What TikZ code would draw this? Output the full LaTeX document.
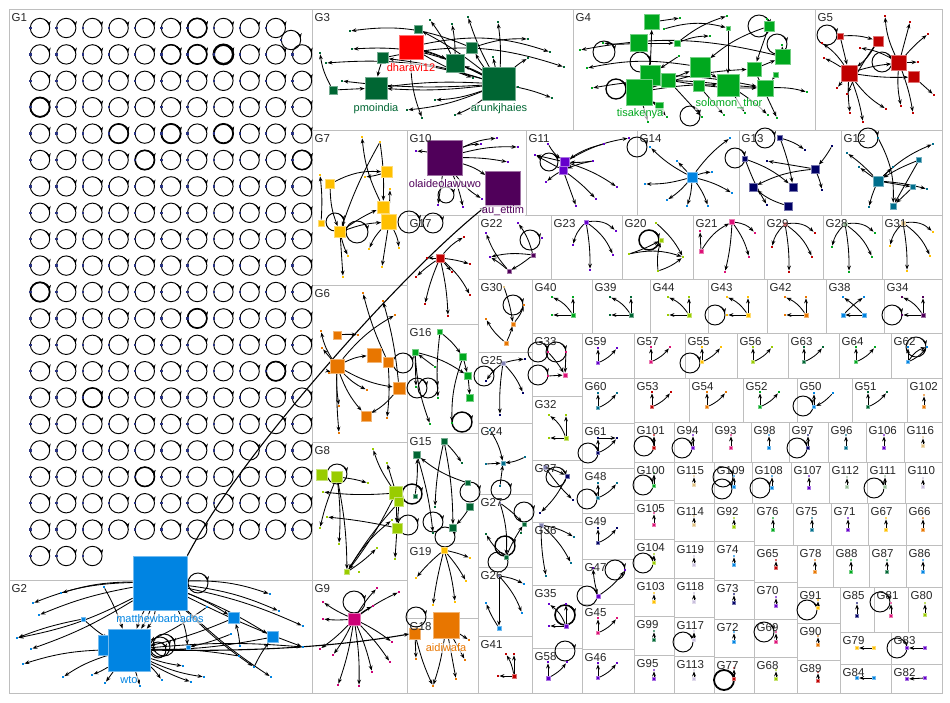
\documentclass[tikz,border=0pt]{standalone}
\usepackage{fontspec}
\setmainfont{Liberation Sans}
\usetikzlibrary{arrows.meta,calc}
\pgfdeclarelayer{bg}
\pgfdeclarelayer{edges}
\pgfsetlayers{bg,edges,main}
\definecolor{cblue}{RGB}{0,132,226}
\definecolor{cdkg}{RGB}{0,102,51}
\definecolor{cgrn}{RGB}{0,168,30}
\definecolor{cred}{RGB}{192,0,0}
\definecolor{cbred}{RGB}{255,0,0}
\definecolor{cyel}{RGB}{255,192,0}
\definecolor{corg}{RGB}{232,118,0}
\definecolor{cpur}{RGB}{80,0,90}
\definecolor{cvio}{RGB}{102,0,204}
\definecolor{clim}{RGB}{153,204,0}
\definecolor{cmag}{RGB}{204,0,119}
\definecolor{cpnk}{RGB}{221,17,119}
\definecolor{cnav}{RGB}{0,0,102}
\definecolor{ctea}{RGB}{0,110,140}
\definecolor{cg1}{RGB}{40,50,130}
\definecolor{cgry}{RGB}{130,130,180}
\definecolor{csal}{RGB}{224,112,112}
\definecolor{csag}{RGB}{150,190,150}
\definecolor{ctan}{RGB}{224,192,128}
\definecolor{clt}{RGB}{200,190,220}
\definecolor{cbox}{RGB}{190,190,190}
\tikzset{
  boxln/.style={draw=cbox, line width=1pt},
  glab/.style={anchor=north west, inner sep=0pt, text=black!85, font=\fontsize{11.5}{13}\selectfont},
  sq/.style={rectangle, inner sep=0pt, line width=0.7pt},
  dt/.style={rectangle, inner sep=0pt, minimum size=2.4pt},
  ed/.style={draw=black, line width=0.85pt, -{Stealth[length=5pt,width=3.8pt]}},
  lpst/.style={draw=black},
  nlab/.style={inner sep=0.5pt, fill=white, fill opacity=0.65, text opacity=1, font=\fontsize{11}{12}\selectfont},
}
\newcount\edgecnt
\newcommand\pushedge[1]{\global\advance\edgecnt by 1 \expandafter\xdef\csname myedge\the\edgecnt\endcsname{#1}}
\newcommand\Nd[5]{\node[sq,fill=#5,draw=#5!55!white,minimum size=#4pt] (#1) at (#2,#3) {};}
\newcommand\Dt[4]{\node[dt,fill=#4] (#1) at (#2,#3) {};}
\newcommand\Ed[3][bend left=10]{\pushedge{\noexpand\draw[ed] (#2) to[#1] (#3);}}
\newcommand\Lp[4][0.95pt]{\pushedge{\noexpand\draw[lpst,line width=#1] (#2,#3) circle[radius=#4pt];\noexpand\draw[lpst,line width=#1,-{Stealth[length=5pt,width=4pt]}] ($(#2,#3)+(55:#4pt)$) arc[start angle=55,end angle=10,radius=#4pt];}}
\newcommand\Tri[6]{\Nd{#1}{#2}{#3}{4}{#4}\Dt{#1a}{#2-#5}{#3-#6}{#4}\Dt{#1b}{#2}{#3-#6}{#4}\Dt{#1c}{#2-#5}{#3}{#4}\Ed[bend right=15]{#1}{#1a}\Ed[]{#1}{#1b}\Ed[]{#1}{#1c}}
\newcommand\Vee[4]{\Nd{#1}{#2}{#3}{3.5}{#4}\Dt{#1a}{#2}{#3-15}{#4}\Dt{#1b}{#2+19}{#3-15}{#4}\Ed[]{#1}{#1a}\Ed[bend right=12]{#1}{#1b}}
\newcommand\One[5]{\Nd{#1}{#2}{#3}{3.5}{#4}\Dt{#1a}{#2}{#3-#5}{#4!60!white}\Ed[]{#1}{#1a}}
\newcommand\Fan[5]{\Nd{#1}{#2}{#3}{4}{#4}\Dt{#1a}{#2+30}{#3+9}{#5}\Dt{#1b}{#2-13}{#3+23}{#5}\Dt{#1c}{#2+4}{#3+48}{#5}\Dt{#1d}{#2+27}{#3+33}{#5}\Ed[bend left=25]{#1}{#1a}\Ed[bend right=15]{#1}{#1b}\Ed[bend left=5]{#1}{#1c}\Ed[bend left=15]{#1}{#1d}}
\def\boxlist{9/9/312/580/G1,9/580/312/693/G2,312/9/573/130/G3,573/9/815/130/G4,815/9/942/130/G5,%
312/130/407/285/G7,312/285/407/442/G6,312/442/407/580/G8,312/580/407/693/G9,%
407/130/526/215/G10,407/215/478/324/G17,407/324/478/433/G16,407/433/478/543/G15,407/543/478/618/G19,407/618/478/693/G18,%
526/130/637/215/G11,637/130/739/215/G14,739/130/841/215/G13,841/130/942/215/G12,%
478/215/551/279/G22,551/215/622/279/G23,622/215/693/279/G20,693/215/764/279/G21,764/215/823/279/G29,823/215/882/279/G28,882/215/942/279/G31,%
478/279/532/352/G30,532/279/592/333/G40,592/279/650/333/G39,650/279/708/333/G44,708/279/767/333/G43,767/279/826/333/G42,826/279/884/333/G38,884/279/942/333/G34,%
478/352/532/423/G25,478/423/532/494/G24,478/494/532/567/G27,478/567/532/636/G26,478/636/532/693/G41,%
532/333/582/396/G33,532/396/582/460/G32,532/460/582/522/G37,532/522/582/585/G36,532/585/582/648/G35,532/648/582/693/G58,%
582/333/634/378/G59,582/378/634/423/G60,582/423/634/468/G61,582/468/634/513/G48,582/513/634/559/G49,582/559/634/604/G47,582/604/634/649/G45,582/649/634/693/G46,%
634/333/685/378/G57,685/333/737/378/G55,737/333/788/378/G56,788/333/839/378/G63,839/333/891/378/G64,891/333/942/378/G62,%
634/378/689/422/G53,689/378/743/422/G54,743/378/797/422/G52,797/378/852/422/G50,852/378/907/422/G51,907/378/942/422/G102,%
634/422/674/462/G101,674/422/712/462/G94,712/422/751/462/G93,751/422/789/462/G98,789/422/828/462/G97,828/422/866/462/G96,866/422/904/462/G106,904/422/942/462/G116,%
634/462/674/500/G100,674/462/714/503/G115,714/462/752/503/G109,752/462/791/503/G108,791/462/829/503/G107,829/462/867/503/G112,867/462/905/503/G111,905/462/942/503/G110,%
634/500/674/539/G105,674/503/714/541/G114,714/503/754/541/G92,754/503/793/545/G76,793/503/831/545/G75,831/503/868/545/G71,868/503/906/545/G67,906/503/942/545/G66,%
634/539/674/578/G104,674/541/714/578/G119,714/541/754/580/G74,754/545/797/582/G65,797/545/833/587/G78,833/545/869/587/G88,869/545/906/587/G87,906/545/942/587/G86,%
634/578/674/616/G103,674/578/714/617/G118,714/580/754/619/G73,754/582/797/619/G70,797/587/840/623/G91,840/587/874/632/G85,874/587/908/632/G81,908/587/942/632/G80,%
634/616/674/655/G99,674/617/714/656/G117,714/619/754/657/G72,754/619/797/657/G69,797/623/840/660/G90,840/632/891/664/G79,891/632/942/664/G83,%
634/655/674/693/G95,674/656/714/693/G113,714/657/754/693/G77,754/657/797/693/G68,797/660/840/693/G89,840/664/891/693/G84,891/664/942/693/G82}
\begin{document}
\begin{tikzpicture}[x=1pt,y=-1pt]
\useasboundingbox (0,0) rectangle (950,702);
\begin{pgfonlayer}{bg}
\fill[white] (0,0) rectangle (950,702);
\foreach \a/\b/\c/\d/\n in \boxlist {\draw[boxln] (\a,\b) rectangle (\c,\d);}
\end{pgfonlayer}
% ---------------- G1 ----------------
\foreach \c in {1,...,10}{\pgfmathsetmacro\xx{40+26.2*(\c-1)}\Dt{g1-1-\c}{\xx-9.7}{28}{cg1}\Lp{\xx}{28}{9.7}}
\Dt{g1x}{281}{40}{cg1}\Lp{291}{40}{9.7}
\foreach \r in {2,...,20}{\foreach \c in {1,...,11}{\pgfmathsetmacro\xx{40+26.2*(\c-1)}\pgfmathsetmacro\yy{28+26.4*(\r-1)}\Dt{g1-\r-\c}{\xx-9.7}{\yy}{cg1}\Lp{\xx}{\yy}{9.7}}}
\foreach \c in {1,2,3}{\pgfmathsetmacro\xx{40+26.2*(\c-1)}\Dt{g1-21-\c}{\xx-9.7}{556}{cg1}\Lp{\xx}{556}{9.7}}
\foreach \r/\c/\w in {1/7/1.5,2/6/1.4,2/7/1.6,2/8/2.4,4/1/1.8,5/4/1.6,5/6/1.8,5/8/1.8,6/5/1.6,6/11/1.4,11/1/1.7,12/7/1.6,15/3/1.5,14/10/1.6,18/5/1.5}{\pgfmathsetmacro\xx{40+26.2*(\c-1)}\pgfmathsetmacro\yy{28+26.4*(\r-1)}\Lp[\w pt]{\xx}{\yy}{9.7}}
% ---------------- G2 ----------------
\Nd{wb}{108}{645}{20}{cblue}
\Nd{mb}{160}{583}{54}{cblue}
\Nd{wto}{129}{650}{42}{cblue}
\Nd{s1}{234}{618}{11}{cblue}
\Nd{s2}{273}{637}{11}{cblue}
\Nd{s3}{188}{647}{4}{cblue}
\Nd{s4}{83}{619}{4}{cblue}
\foreach \n/\x/\y in {d1/61/593,d2/33/603,d3/39/615,d4/17/638,d5/31/649,d6/23/664,d7/63/677,d8/92/675,d9/105/683,d10/140/686,d11/162/680,d12/191/682,d13/204/677,d14/183/666,d15/104/587,d16/270/594,d17/279/611,d18/303/626,d19/240/646,d20/254/667,d21/271/677,d22/303/647,d23/207/607,d24/231/634,d25/239/656}{\Dt{\n}{\x}{\y}{cblue}}
\Ed[bend right=8]{mb}{d1}\Ed[bend right=10]{mb}{d2}\Ed[bend right=6]{mb}{d3}\Ed[bend left=8]{mb}{d4}\Ed[bend left=6]{mb}{d5}
\Ed[bend left=10]{mb}{d16}\Ed[bend left=8]{mb}{d17}\Ed[bend left=6]{mb}{d18}\Ed[bend left=5]{mb}{s1}\Ed[bend left=5]{mb}{s2}\Ed[bend left=10]{mb}{s3}
\Ed[bend right=5]{mb}{wto}\Ed[bend left=5]{mb}{wto}\Ed[bend left=15]{mb}{wto}\Ed[bend right=3]{mb}{d22}\Ed[bend right=5]{mb}{d20}\Ed[bend right=5]{mb}{d21}
\Ed[bend left=5]{d15}{wto}\Ed[bend right=5]{s4}{wto}\Ed[bend right=5]{s4}{d4}
\Ed[bend right=8]{wto}{d6}\Ed[bend right=8]{wto}{d7}\Ed[bend left=5]{wto}{d8}\Ed[]{wto}{d9}\Ed[]{wto}{d10}\Ed[bend right=8]{wto}{d13}\Ed[bend right=5]{wto}{d14}
\Ed[bend left=5]{wto}{d22}\Ed[bend right=5]{wto}{d12}\Ed[bend left=5]{wto}{d11}\Ed[bend left=5]{d23}{wto}\Ed[bend left=5]{s1}{wto}\Ed[bend left=5]{s2}{wto}
\Ed[bend left=5]{d20}{s2}\Ed[bend right=5]{d19}{s1}\Ed[bend left=5]{d24}{s3}\Ed[bend right=5]{d25}{wto}
\Lp{198}{583}{10}\Lp{160}{647}{10}\Lp{164}{645}{11}\Lp{158}{650}{8}
% ---------------- G3 ----------------
\Nd{g3e}{333}{90}{8}{cdkg}
\Nd{pm}{376}{88}{22}{cdkg}
\Nd{g3a}{383}{58}{11}{cdkg}
\Nd{dh}{411}{47}{24}{cbred}
\Nd{g3d}{418}{29}{8}{cdkg}
\Nd{g3b}{455}{63}{18}{cdkg}
\Nd{g3c}{472}{48}{11}{cdkg}
\Nd{ar}{499}{84}{33}{cdkg}
\foreach \n/\x/\y in {e1/350/31,e2/352/49,e3/320/53,e4/326/63,e5/342/81,e6/407/110,e7/422/118,e8/430/20,e9/452/24,e10/468/17,e11/498/22,e12/493/57,e13/528/39,e14/550/52,e15/564/67,e16/552/98,e17/528/58,e18/518/87,e19/455/115,e20/435/100,e21/473/78}{\Dt{\n}{\x}{\y}{cdkg}}
\Ed[bend right=15]{ar}{e2}\Ed[bend right=10]{ar}{e4}\Ed[bend left=5]{ar}{e5}\Ed[bend right=5]{ar}{pm}\Ed[bend left=5]{ar}{pm}
\Ed[bend right=5]{ar}{g3a}\Ed[bend right=5]{ar}{g3b}\Ed[bend left=5]{ar}{g3c}\Ed[bend right=5]{ar}{g3d}\Ed[bend right=5]{ar}{dh}
\Ed[bend right=5]{ar}{e11}\Ed[]{ar}{e12}\Ed[bend left=5]{ar}{e17}\Ed[bend left=5]{ar}{e16}\Ed[bend left=8]{ar}{e19}\Ed[bend left=8]{ar}{e20}\Ed[bend left=8]{ar}{e6}
\Ed[bend right=10]{dh}{e7}\Ed[bend left=5]{dh}{g3b}\Ed[bend left=15]{dh}{e14}\Ed[bend left=15]{g3a}{e15}\Ed[bend right=15]{g3c}{e1}
\Ed[bend right=5]{g3a}{pm}\Ed[]{g3e}{pm}\Ed[bend left=10]{g3e}{e3}\Ed[bend right=5]{g3b}{e8}\Ed[bend right=5]{g3b}{e9}\Ed[bend left=5]{ar}{e10}\Ed[bend left=10]{g3c}{e13}\Ed[bend right=5]{dh}{e21}
% ---------------- G4 ----------------
\Nd{a1}{652}{22}{15}{cgrn}\Nd{a2}{639}{43}{17}{cgrn}\Nd{a3}{650}{75}{20}{cgrn}\Nd{ts}{639}{92}{26}{cgrn}
\Nd{a5}{668}{80}{14}{cgrn}\Nd{a6}{700}{67}{20}{cgrn}\Nd{a7}{699}{86}{11}{cgrn}\Nd{so}{728}{85}{22}{cgrn}
\Nd{a9}{754}{69}{14}{cgrn}\Nd{a10}{765}{88}{16}{cgrn}\Nd{a11}{783}{57}{15}{cgrn}\Nd{a12}{769}{26}{10}{cgrn}
\Nd{a13}{677}{43}{6}{cgrn}\Nd{a14}{776}{75}{5}{cgrn}\Nd{a15}{659}{106}{8}{cgrn}\Nd{b3}{728}{28}{4}{cgrn}
\foreach \n/\x/\y in {b1/680/18,b2/727/16,b4/710/36,b5/679/56,b6/664/29,b7/782/45,b8/767/19,b9/807/92,b10/777/118,b11/768/115,b12/745/113,b13/724/115,b14/702/117,b15/667/117,b16/648/122,b17/580/50,b18/587/68,b19/592/88,b20/603/43}{\Dt{\n}{\x}{\y}{cgrn}}
\Ed[bend right=10]{a6}{b18}\Ed[bend right=8]{so}{b19}\Ed[bend right=12]{a11}{b17}\Ed[bend left=5]{a2}{b20}
\Ed[]{ts}{a6}\Ed[bend left=5]{ts}{so}\Ed[bend left=8]{ts}{a9}\Ed[bend left=5]{a3}{a10}\Ed[bend right=5]{a5}{a10}
\Ed[]{a6}{so}\Ed[]{so}{a10}\Ed[]{a9}{a11}\Ed[bend left=8]{a10}{b9}\Ed[]{a11}{b7}\Ed[]{a12}{a9}\Ed[]{a7}{b13}
\Ed[]{so}{b12}\Ed[bend left=5]{so}{b11}\Ed[]{a9}{b10}\Ed[]{ts}{b16}\Ed[bend left=5]{ts}{b15}\Ed[]{a3}{a1}\Ed[]{a2}{a13}
\Ed[]{a1}{b1}\Ed[bend left=10]{a13}{b4}\Ed[bend left=15]{b6}{b3}\Ed[]{b3}{so}\Ed[]{a5}{b14}\Ed[]{a15}{ts}\Ed[]{b5}{a3}\Ed[]{a14}{a10}\Ed[bend right=10]{a12}{a6}\Ed[bend left=10]{a13}{b2}
\Lp{759}{26}{11}\Lp{640}{62}{10}\Lp{690}{116}{10}\Lp{604}{52}{11}\Lp[1.3pt]{616}{89}{10}\Lp{777}{44}{10}
% ---------------- G5 ----------------
\Nd{r5}{840}{36}{6}{cred}\Nd{r3}{878}{41}{10}{cred}\Nd{r1}{849}{73}{16}{cred}\Nd{r2}{899}{63}{15}{cred}\Nd{r4}{914}{77}{11}{cred}
\foreach \n/\x/\y in {c1/885/16,c2/910/22,c3/928/34,c4/822/43,c5/824/58,c6/837/88,c7/847/94,c8/850/113,c9/863/122,c10/886/109,c11/901/106,c12/913/113,c13/934/95,c14/918/62,c15/860/48}{\Dt{\n}{\x}{\y}{cred}}
\Ed[bend right=10]{r1}{c4}\Ed[bend right=5]{r1}{c5}\Ed[]{r1}{c6}\Ed[bend right=5]{r1}{c8}\Ed[bend left=5]{r1}{c9}
\Ed[bend left=5]{r1}{r2}\Ed[bend right=5]{r1}{r4}\Ed[bend right=10]{r1}{c10}\Ed[bend left=10]{r5}{r3}\Ed[]{r5}{r1}
\Ed[bend left=10]{r2}{c1}\Ed[]{r2}{c2}\Ed[bend left=5]{r2}{c3}\Ed[bend left=5]{r2}{c12}\Ed[bend right=8]{r2}{c11}\Ed[]{r2}{c14}
\Ed[bend right=10]{r2}{c15}\Ed[]{r4}{c13}\Ed[bend left=10]{r3}{r1}\Ed[bend right=5]{r3}{c7}
\Lp{827}{35}{10}\Lp{882}{62}{10}
% ---------------- G7 ----------------
\Nd{y1}{330}{184}{9}{cyel}\Nd{y2}{387}{172}{11}{cyel}\Nd{y3}{383}{207}{12}{cyel}\Nd{y4}{389}{222}{15}{cyel}\Nd{y5}{340}{232}{11}{cyel}\Nd{y6}{321}{223}{6}{cyel}
\foreach \n/\x/\y in {f1/362/137,f2/380/142,f3/320/175,f4/365/177,f5/390/189,f6/369/249,f7/348/256,f8/382/267,f9/399/248,f10/343/277}{\Dt{\n}{\x}{\y}{cyel}}
\Ed[bend left=15]{y1}{y2}\Ed[bend left=10]{y3}{f1}\Ed[bend right=5]{f2}{y5}\Ed[bend left=5]{y2}{f4}\Ed[]{y4}{f5}
\Ed[bend right=10]{y4}{f6}\Ed[]{y4}{f8}\Ed[bend left=10]{y4}{f9}\Ed[bend right=5]{y5}{f7}\Ed[]{y5}{f10}
\Ed[bend right=10]{y1}{y5}\Ed[bend left=5]{y5}{y3}\Ed[bend right=5]{y6}{f3}\Ed[bend left=8]{y5}{y4}\Ed[bend left=5]{f2}{y3}
\Lp{357}{232}{11}\Lp{409}{222}{11}\Lp{335}{222}{9}
% ---------------- G10 ----------------
\Nd{ol}{445}{158}{35}{cpur}\Nd{au}{503}{189}{35}{cpur}
\foreach \n/\x/\y in {h1/416/151,h2/481/144,h3/497/138,h4/518/147,h5/508/162,h6/482/199,h7/438/205,h8/463/207}{\Dt{\n}{\x}{\y}{cvio}}
\Ed[bend left=10]{ol}{h2}\Ed[bend left=10]{ol}{h3}\Ed[bend left=8]{ol}{h4}\Ed[bend left=5]{ol}{h5}\Ed[bend left=10]{ol}{au}
\Ed[bend right=10]{ol}{h6}\Ed[]{ol}{h7}\Ed[bend left=5]{ol}{h8}\Ed[bend right=5]{ol}{h1}
\Lp{446}{195}{8}
% ---------------- G17 ----------------
\Nd{q}{440}{258}{8}{cred}
\foreach \n/\x/\y in {q1/464/237,q2/470/264,q3/427/258,q4/416/277,q5/452/272,q6/425/304,q7/448/316,q8/470/295}{\Dt{\n}{\x}{\y}{cred}}
\Ed[bend left=10]{q}{q1}\Ed[bend left=5]{q}{q2}\Ed[]{q}{q3}\Ed[bend right=5]{q}{q4}\Ed[]{q}{q5}\Ed[bend right=5]{q}{q6}\Ed[bend left=5]{q}{q7}\Ed[bend left=10]{q}{q8}
\Lp{433}{223}{10}
% ---------------- G6 ----------------
\Nd{o1}{337}{335}{8}{corg}\Nd{o2}{337}{366}{14}{corg}\Nd{o3}{374}{355}{14}{corg}\Nd{o4}{388}{362}{10}{corg}\Nd{o5}{399}{388}{12}{corg}\Nd{o6}{366}{416}{10}{corg}
\foreach \n/\x/\y in {m1/363/293,m2/383/301,m3/395/315,m4/321/331,m5/358/335,m6/322/348,m7/329/373,m8/367/390,m9/339/406,m10/387/418,m11/339/433}{\Dt{\n}{\x}{\y}{corg}}
\Ed[bend left=5]{o1}{m5}\Ed[bend left=10]{o2}{m4}\Ed[bend left=10]{o2}{o3}\Ed[]{o2}{m6}\Ed[bend right=5]{o2}{m7}
\Ed[bend right=10]{o2}{o6}\Ed[bend right=5]{o2}{m9}\Ed[bend right=3]{o2}{m11}\Ed[bend right=10]{o2}{m8}\Ed[bend left=10]{o2}{m3}
\Ed[bend left=5]{o4}{m1}\Ed[bend left=5]{o4}{m10}\Ed[bend left=10]{o5}{o6}\Ed[bend right=5]{o5}{m2}\Ed[bend right=10]{o2}{o5}
\Lp{403}{363}{10}
% ---------------- G16 ----------------
\Nd{n1}{440}{332}{5}{cgrn}\Nd{n2}{415}{352}{6}{cgrn}\Nd{n3}{463}{357}{7}{cgrn}\Nd{n4}{468}{376}{7}{cgrn}\Nd{n5}{470}{398}{7}{cgrn}
\foreach \n/\x/\y in {p1/435/367,p2/438/398,p3/416/387,p4/430/424,p5/452/423}{\Dt{\n}{\x}{\y}{cgrn}}
\Ed[bend left=8]{n1}{n3}\Ed[bend right=5]{n1}{p2}\Ed[bend left=10]{n2}{n4}\Ed[]{n2}{p3}\Ed[bend right=8]{n2}{p4}\Ed[]{n3}{n4}\Ed[]{n4}{n5}\Ed[bend right=10]{n3}{p5}\Ed[]{p1}{n2}
\Lp{417}{388}{10}\Lp{428}{388}{10}\Lp[1.4pt]{462}{422}{10}\Lp{484}{376}{10}
% ---------------- G8 ----------------
\Nd{l1}{322}{475}{11}{clim}\Nd{l2}{337}{477}{11}{clim}\Nd{l3}{396}{493}{13}{clim}\Nd{l4}{399}{502}{9}{clim}\Nd{l5}{397}{528}{10}{clim}\Nd{l6}{347}{572}{5}{clim}
\foreach \n/\x/\y in {t1/373/449,t2/387/463,t3/368/483,t4/323/492,t5/327/517,t6/320/528,t7/339/544,t8/392/520,t9/395/559,t10/377/548,t11/359/572}{\Dt{\n}{\x}{\y}{clim}}
\Ed[bend left=8]{l3}{t1}\Ed[]{l3}{t2}\Ed[]{l3}{l5}\Ed[]{l4}{l5}\Ed[bend left=5]{l3}{t4}\Ed[bend left=5]{l2}{t3}\Ed[bend right=5]{l2}{t6}
\Ed[bend left=5]{l2}{t7}\Ed[bend left=5]{l2}{l6}\Ed[bend right=3]{l5}{t5}\Ed[]{l5}{t9}\Ed[bend left=5]{l3}{l6}\Ed[bend right=5]{l4}{l6}
\Ed[bend right=5]{l6}{t10}\Ed[bend left=10]{l6}{t8}
\Lp{337}{474}{10}\Lp[1.4pt]{412}{494}{10}\Lp{408}{525}{10}
% ---------------- G15 ----------------
\Nd{v1}{417}{455}{7}{cdkg}\Nd{v2}{444}{441}{6}{cdkg}\Nd{v3}{415}{496}{4}{cdkg}\Nd{v4}{468}{483}{5}{cdkg}\Nd{v5}{470}{507}{7}{cdkg}\Nd{v6}{453}{528}{7}{cdkg}
\foreach \n/\x/\y in {w1/462/463,w2/435/507,w3/433/533}{\Dt{\n}{\x}{\y}{cdkg}}
\Ed[bend left=5]{v2}{w1}\Ed[bend left=5]{v2}{v6}\Ed[bend right=5]{v2}{w2}\Ed[bend left=10]{v4}{v1}\Ed[bend right=5]{v3}{v1}\Ed[bend left=5]{v5}{v6}\Ed[bend left=5]{v1}{w3}
\Lp{470}{492}{10}\Lp{433}{522}{10}\Lp{445}{537}{10}
% ---------------- G19 ----------------
\Nd{u}{444}{550}{6}{cyel}
\foreach \n/\x/\y in {z1/470/558,z2/416/578,z3/455/602,z4/466/581,z5/433/605}{\Dt{\n}{\x}{\y}{cyel}}
\Ed[bend left=5]{u}{z1}\Ed[bend right=5]{u}{z2}\Ed[bend left=5]{u}{z3}\Ed[bend left=5]{u}{z4}\Ed[bend right=3]{u}{z5}
% ---------------- G9 ----------------
\Nd{mg}{354}{619}{12}{cmag}
\foreach \n/\x/\y in {j1/323/602,j2/323/619,j3/320/649,j4/333/655,j5/338/685,j6/359/686,j7/372/672,j8/390/662,j9/392/642,j10/377/588,j11/399/592,j12/373/606}{\Dt{\n}{\x}{\y}{cmag}}
\foreach \n in {j1,j2,j3,j4,j5,j6,j7,j8,j9,j10,j11,j12}{\Ed[bend left=5]{mg}{\n}}
\Lp{354}{602}{11}
% ---------------- G18 ----------------
\Nd{ai}{446}{625}{26}{corg}\Nd{f0}{415}{634}{11}{corg}
\foreach \n/\x/\y in {x1/416/659,x2/433/686,x3/456/679,x4/465/660,x5/469/640}{\Dt{\n}{\x}{\y}{corg}}
\Ed[]{ai}{x3}\Ed[]{ai}{x4}\Ed[]{ai}{x5}\Ed[bend left=5]{ai}{x2}\Ed[]{f0}{x1}\Ed[bend right=5]{f0}{x2}
\Lp{416}{617}{10}
% ---------------- G11 ----------------
\Nd{i1}{565}{162}{9}{cvio}\Nd{i2}{563}{170}{8}{cvio}
\foreach \n/\x/\y in {g11a/548/144,g11b/535/155,g11c/546/182,g11d/576/206,g11e/596/199,g11f/617/187,g11g/593/161,g11h/604/144,g11i/629/138}{\Dt{\n}{\x}{\y}{cvio}}
\Ed[]{i1}{g11b}\Ed[bend right=5]{i2}{g11c}\Ed[]{i2}{g11d}\Ed[bend left=5]{i2}{g11e}\Ed[bend left=8]{i1}{g11f}\Ed[bend left=5]{g11g}{i1}
\Ed[bend right=5]{g11g}{i2}\Ed[bend right=10]{g11h}{i1}\Ed[bend left=10]{i1}{g11i}\Ed[]{i2}{g11b}\Ed[bend right=10]{g11a}{i1}
\Lp{549}{162}{9}\Lp{637}{147}{10}
% ---------------- G14 ----------------
\Nd{bq}{692}{177}{10}{cblue}
\foreach \n/\x/\y in {g14a/650/147,g14b/677/161,g14c/645/184,g14d/667/200,g14e/687/206,g14f/708/206,g14g/732/193,g14h/730/138,g14i/712/172}{\Dt{\n}{\x}{\y}{cblue}}
\foreach \n in {g14a,g14c,g14d,g14e,g14f,g14g,g14h,g14i}{\Ed[bend left=8]{bq}{\n}}
\Ed[]{bq}{g14b}
% ---------------- G13 ----------------
\Nd{na}{780}{138}{5}{cnav}\Nd{nb}{745}{159}{5}{cnav}\Nd{nc}{815}{169}{8}{cnav}\Nd{nd}{753}{187}{8}{cnav}\Nd{ne}{793}{187}{8}{cnav}\Nd{nf}{788}{206}{8}{cnav}
\foreach \n/\x/\y in {ng/805/150,nh/767/161,ni/832/146,nj/822/190,nk/767/205}{\Dt{\n}{\x}{\y}{cnav}}
\Ed[bend left=10]{na}{ng}\Ed[bend left=5]{na}{ne}\Ed[bend left=10]{nb}{ne}\Ed[bend right=5]{nb}{nk}\Ed[bend right=10]{nc}{nd}
\Ed[]{nc}{nh}\Ed[bend left=5]{ni}{nc}\Ed[bend left=5]{nc}{nj}\Ed[bend left=10]{nf}{nd}
\Lp{765}{138}{10}\Lp{735}{158}{10}
% ---------------- G12 ----------------
\Nd{ta}{878}{181}{10}{ctea}\Nd{tb}{919}{160}{5}{ctea}\Nd{tc}{913}{187}{5}{ctea}\Nd{td}{893}{206}{6}{ctea}
\foreach \n/\x/\y in {te/847/153,tf/859/167,tg/878/138,th/933/144,ti/927/189,tj/893/167,tk/869/207}{\Dt{\n}{\x}{\y}{ctea}}
\Ed[bend right=5]{ta}{te}\Ed[]{ta}{tj}\Ed[bend left=10]{ta}{th}\Ed[]{ta}{tc}\Ed[bend left=5]{ta}{ti}\Ed[bend right=5]{ta}{tk}
\Ed[bend right=5]{tb}{ta}\Ed[]{tb}{td}\Ed[]{tc}{td}\Ed[bend left=15]{tg}{td}\Ed[]{ta}{tf}
\Lp{868}{138}{10}
% ---------------- row G22..G31 ----------------
\Nd{k22a}{533}{255}{4}{cpur}\Nd{k22b}{509}{271}{4}{cpur}
\Dt{k22c}{486}{233}{cvio}\Dt{k22d}{518}{223}{cvio}\Dt{k22e}{490}{257}{cvio}\Dt{k22f}{542}{238}{cvio}
\Ed[bend left=10]{k22b}{k22c}\Ed[bend right=10]{k22a}{k22e}\Ed[bend right=5]{k22b}{k22e}\Ed[bend left=5]{k22a}{k22b}\Ed[bend right=10]{k22a}{k22d}
\Lp{530}{240}{10}
\Fan{k23}{586}{222}{cvio}{cvio}
\Nd{k20}{661}{240}{4}{clim}\Dt{k20a}{656}{223}{clim}\Dt{k20b}{629}{254}{clim}\Dt{k20c}{658}{271}{clim}\Dt{k20d}{683}{257}{clim}
\Ed[bend right=5]{k20b}{k20}\Ed[bend left=15]{k20b}{k20d}\Ed[bend left=10]{k20a}{k20d}\Ed[bend right=10]{k20c}{k20d}\Ed[bend left=10]{k20c}{k20}
\Lp[1.5pt]{649}{240}{10}
\Nd{k21}{732}{222}{5}{cpnk}\Nd{k21b}{701}{251}{4}{cpnk}
\Dt{k21c}{755}{233}{cpnk}\Dt{k21d}{749}{257}{cpnk}\Dt{k21e}{725}{272}{cpnk}\Dt{k21f}{700}{231}{cpnk}
\Ed[bend left=20]{k21}{k21c}\Ed[bend left=10]{k21}{k21d}\Ed[bend left=5]{k21}{k21e}\Ed[bend left=15]{k21b}{k21}\Ed[]{k21b}{k21f}
\Fan{k29}{785}{224}{csal}{cred}
\Fan{k28}{845}{224}{csag}{cgrn}
\Fan{k31}{903}{223}{ctan}{cyel}
% ---------------- row G30..G34 ----------------
\Nd{k30a}{513}{324}{4}{corg}\Nd{k30b}{506}{343}{4}{corg}
\Dt{k30c}{504}{287}{ctan}\Dt{k30d}{524}{305}{corg}\Dt{k30e}{486}{319}{corg}
\Ed[bend left=5]{k30c}{k30a}\Ed[bend left=10]{k30b}{k30e}\Ed[bend right=5]{k30b}{k30a}\Ed[bend right=10]{k30a}{k30d}
\Lp{513}{305}{10}
\Tri{k40}{573}{315}{cgrn}{21}{18}
\Tri{k39}{631}{315}{cdkg}{21}{18}
\Tri{k44}{689}{315}{clim}{21}{18}
\Tri{k43}{748}{315}{cyel}{21}{18}\Lp{715}{315}{10}
\Tri{k42}{806}{315}{corg}{21}{18}
\Nd{k38a}{843}{315}{4}{cblue}\Nd{k38b}{864}{315}{4}{cblue}\Dt{k38c}{843}{297}{cblue}\Dt{k38d}{864}{297}{cblue}
\Ed[bend right=5]{k38b}{k38c}\Ed[bend left=5]{k38a}{k38d}\Ed[]{k38b}{k38a}
\Tri{k34}{923}{315}{cpur}{21}{18}\Lp{892}{315}{10}
% ---------------- column 478-532 ----------------
\Nd{k25}{503}{363}{4}{cgry}
\Dt{k25a}{525}{359}{cnav}\Dt{k25b}{523}{393}{cnav}\Dt{k25c}{500}{415}{cnav}\Dt{k25d}{486}{381}{cnav}
\Ed[bend left=5]{k25}{k25a}\Ed[bend left=10]{k25}{k25b}\Ed[bend right=5]{k25}{k25c}\Ed[bend right=10]{k25}{k25d}
\Nd{k24}{503}{463}{4}{ctea}
\Dt{k24a}{490}{430}{ctea}\Dt{k24b}{486}{464}{ctea}\Dt{k24c}{525}{457}{ctea}\Dt{k24d}{500}{486}{ctea}
\Ed[bend left=10]{k24a}{k24}\Ed[]{k24b}{k24}\Ed[bend left=10]{k24c}{k24}\Ed[]{k24d}{k24}
\Lp{501}{490}{10}
\Nd{k27a}{524}{524}{4}{cdkg}\Nd{k27b}{506}{557}{4}{cdkg}
\Dt{k27c}{500}{503}{cgry}\Dt{k27d}{486}{534}{cdkg}\Dt{k27e}{521}{533}{cdkg}
\Ed[bend left=10]{k27c}{k27b}\Ed[bend left=5]{k27c}{k27a}\Ed[bend left=5]{k27b}{k27a}\Ed[bend left=10]{k27b}{k27d}
\Lp{524}{512}{10}\Lp[1.4pt]{505}{546}{10}\Lp{498}{562}{10}
\Nd{k26}{499}{628}{4}{cblue}
\Dt{k26d}{499}{576}{cgry}\Dt{k26a}{486}{603}{cblue}\Dt{k26b}{524}{584}{cblue}\Dt{k26c}{522}{613}{cblue}
\Ed[]{k26d}{k26}\Ed[bend left=5]{k26}{k26a}\Ed[bend left=10]{k26d}{k26b}\Ed[bend left=10]{k26d}{k26c}
\Nd{k41}{514}{676}{4}{cred}\Dt{k41a}{506}{654}{cred}\Dt{k41b}{514}{654}{cred}\Dt{k41c}{498}{676}{cred}
\Ed[bend right=10]{k41}{k41a}\Ed[]{k41}{k41b}\Ed[]{k41}{k41c}
% ---------------- column 532-582 ----------------
\Nd{k33}{565}{375}{4}{cpnk}\Dt{k33a}{566}{352}{cpnk}\Dt{k33b}{548}{352}{cpnk}\Dt{k33c}{548}{376}{cpnk}
\Ed[]{k33a}{k33}\Ed[bend left=5]{k33b}{k33}\Ed[]{k33c}{k33}
\Lp{538}{352}{10}\Lp{556}{352}{10}\Lp{538}{375}{10}
\Tri{k32}{566}{438}{clim}{17}{23}
\Nd{k37a}{567}{476}{4}{cnav}\Nd{k37b}{545}{467}{4}{cgry}\Dt{k37c}{573}{500}{cnav}\Dt{k37d}{540}{513}{cnav}
\Ed[bend left=5]{k37b}{k37a}\Ed[bend right=5]{k37b}{k37c}\Ed[bend left=10]{k37a}{k37d}
\Lp{556}{477}{10}
\Nd{k36}{541}{525}{4}{cgry}\Dt{k36a}{574}{537}{ctea}\Dt{k36b}{571}{563}{ctea}\Dt{k36c}{546}{576}{ctea}
\Ed[bend left=10]{k36}{k36a}\Ed[bend left=10]{k36}{k36b}\Ed[bend right=5]{k36}{k36c}
\Tri{k35}{566}{626}{cvio}{17}{22}\Lp[1.6pt]{565}{615}{10}
\Nd{k58}{548}{678}{4}{cvio}\Dt{k58a}{548}{662}{cvio}\Dt{k58b}{567}{662}{cvio}
\Ed[]{k58}{k58a}\Ed[bend right=12]{k58}{k58b}
\Lp{565}{651}{10}
% ---------------- column 582-634 ----------------
\Vee{k59}{598}{363}{cvio}
\Vee{k60}{598}{408}{ctea}
\Vee{k61}{598}{453}{cnav}\Ed[]{k61a}{k61b}\Lp{588}{453}{10}
\Vee{k48}{598}{498}{ctea}\Lp{587}{499}{10}
\Vee{k49}{598}{543}{cnav}
\Nd{k47}{598}{596}{4}{cvio}\Dt{k47a}{593}{568}{cvio}\Dt{k47b}{625}{570}{cvio}
\Ed[bend left=5]{k47}{k47a}\Ed[bend right=10]{k47}{k47b}\Lp{615}{570}{10}\Lp{587}{596}{10}
\Vee{k45}{598}{633}{cpnk}
\Vee{k46}{598}{678}{cvio}
% ---------------- right area ----------------
\Vee{k57}{651}{362}{cpnk}
\Vee{k55}{702}{362}{cyel}\Lp{690}{363}{10}
\Vee{k56}{753}{362}{clim}
\Vee{k63}{804}{362}{cdkg}
\Vee{k64}{856}{362}{cgrn}
\Vee{k62}{908}{362}{cblue}\Ed[bend left=20]{k62}{k62b}\Lp{916}{347}{10}
\Vee{k53}{652}{407}{cred}
\Vee{k54}{707}{407}{corg}
\Vee{k52}{760}{407}{cgrn}
\Nd{k50}{814}{407}{3.5}{cblue}\Dt{k50a}{814}{393}{cblue}\Dt{k50b}{833}{393}{cblue}
\Ed[]{k50}{k50a}\Ed[bend left=10]{k50b}{k50}\Lp{803}{406}{10}
\Vee{k51}{868}{407}{cdkg}
\One{k102}{924}{407}{corg}{12}
\One{k101}{654}{448}{cred}{13}\Lp{644}{446}{10}
\One{k94}{693}{448}{cvio}{13}\Lp{682}{448}{10}
\One{k93}{731}{448}{cpnk}{13}
\One{k98}{769}{448}{cblue}{13}
\One{k97}{808}{448}{cnav}{13}\Lp{797}{448}{10}
\One{k96}{846}{448}{ctea}{13}
\One{k106}{884}{448}{cvio}{13}
\One{k116}{923}{446}{ctan}{9}
\One{k100}{654}{486}{cgrn}{13}\Lp{643}{485}{10}
\One{k115}{694}{485}{ctan}{9}
\One{k109}{734}{487}{cblue}{11}\Lp{723}{477}{10}\Lp{722}{489}{10}
\One{k108}{772}{488}{cblue}{12}\Lp{760}{488}{10}
\One{k107}{809}{488}{cvio}{12}
\One{k112}{847}{487}{csag}{10}
\One{k111}{885}{487}{csag}{11}\Lp{874}{488}{10}
\One{k110}{923}{487}{clt}{9}
\One{k105}{654}{525}{cpnk}{12}
\One{k114}{694}{525}{ctan}{9}
\One{k92}{734}{527}{clim}{9}
\One{k76}{773}{530}{cgrn}{12}
\One{k75}{812}{530}{ctea}{12}
\One{k71}{848}{530}{cvio}{12}
\One{k67}{886}{530}{cyel}{12}
\One{k66}{923}{530}{corg}{12}
\One{k104}{654}{563}{clim}{9}\Lp{643}{563}{10}
\One{k119}{694}{565}{clt}{9}
\One{k74}{734}{565}{cblue}{9}
\One{k65}{776}{568}{cred}{8}
\One{k78}{815}{572}{corg}{12}
\One{k88}{851}{572}{cgrn}{12}
\One{k87}{887}{572}{cdkg}{12}
\One{k86}{923}{572}{cblue}{12}
\One{k103}{654}{602}{cyel}{9}
\One{k118}{694}{602}{clt}{9}
\One{k73}{734}{603}{cnav}{9}
\One{k70}{776}{606}{cvio}{9}
\One{k91}{818}{608}{cyel}{8}\Lp{807}{610}{10}
\One{k85}{857}{616}{cnav}{13}
\One{k81}{891}{616}{cpnk}{13}\Lp{880}{602}{10}
\One{k80}{925}{615}{clim}{12}
\One{k99}{654}{640}{cdkg}{9}
\One{k117}{694}{640}{clt}{9}\Lp{683}{642}{10}
\One{k72}{734}{642}{cblue}{10}
\One{k69}{776}{642}{cpnk}{10}\Lp{764}{632}{10}
\One{k90}{818}{645}{corg}{9}
\One{k95}{654}{679}{cvio}{9}
\One{k113}{694}{679}{clt}{9}
\One{k77}{734}{679}{cred}{11}\Lp[1.8pt]{724}{680}{10}
\One{k68}{776}{679}{clim}{9}
\One{k89}{818}{681}{cred}{9}
\Nd{k79a}{857}{648}{3.5}{cyel}\Nd{k79b}{874}{648}{3.5}{cyel}\Ed[]{k79b}{k79a}
\Nd{k83a}{907}{648}{3.5}{cvio}\Nd{k83b}{925}{648}{3.5}{cvio}\Ed[]{k83b}{k83a}\Lp{897}{648}{10}
\Nd{k84a}{857}{678}{3.5}{cblue}\Nd{k84b}{874}{678}{3.5}{cblue}\Ed[]{k84b}{k84a}
\Nd{k82a}{907}{679}{3.5}{cvio}\Nd{k82b}{925}{678}{3.5}{cvio}\Ed[]{k82b}{k82a}
% ---------------- all connectors, one layer ----------------
\edef\nedges{\the\edgecnt}
\begin{pgfonlayer}{edges}
\foreach \i in {1,...,\nedges}{\csname myedge\i\endcsname}
\draw[ed,line width=1.1pt] (mb.north east) .. controls (240,455) and (400,275) .. (au.south west);
\draw[ed,line width=1.1pt] (wto.east) .. controls (260,652) and (340,646) .. (f0.west);
\end{pgfonlayer}
% ---------------- name labels ----------------
\node[nlab,text=cblue] (labmb) at (160,619) {matthewbarbados};
\node[nlab,text=cblue] (labwto) at (129,680) {wto};
\node[nlab,text=cbred] (labdh) at (411,68) {dharavi12};
\node[nlab,text=cdkg] (labpm) at (376,109) {pmoindia};
\node[nlab,text=cdkg] (labar) at (499,109) {arunkjhaies};
\node[nlab,text=cgrn] (labts) at (640,114) {tisakenya};
\node[nlab,text=cgrn] (labso) at (729,104) {solomon\_thor};
\node[nlab,text=cpur] (labol) at (445,184) {olaideolawuwo};
\node[nlab,text=cpur] (labau) at (503,211) {au\_ettim};
\node[nlab,text=corg] (labai) at (446,648) {aidiwafa};
% ---------------- group labels ----------------
\foreach \a/\b/\c/\d/\n in \boxlist {\node[glab] (lab\n) at (\a+2.5,\b+4) {\n};}
\end{tikzpicture}
\end{document}
